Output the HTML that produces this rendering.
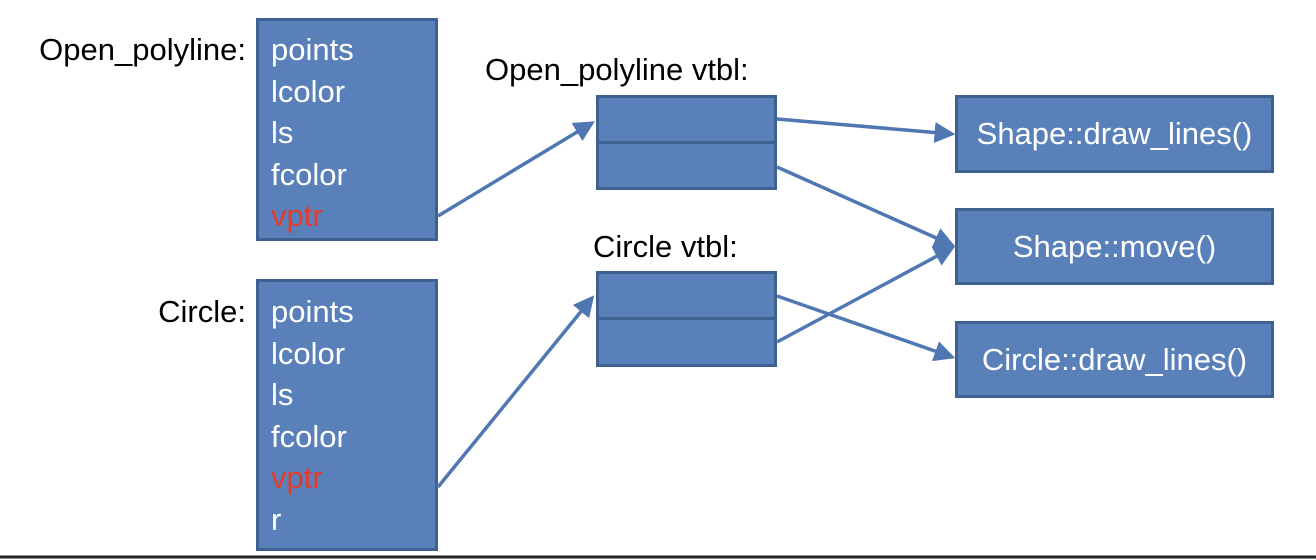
<!DOCTYPE html>
<html><head><style>
body{margin:0;width:1316px;height:560px;background:#fff;position:relative;overflow:hidden;font-family:"Liberation Sans",sans-serif}
.b{position:absolute;background:#5a80ba;border:3px solid #3e6191;box-sizing:border-box}
.t{position:absolute;font-size:31px;color:#fff;line-height:41.5px}
.l{position:absolute;font-size:31px;color:#000;line-height:41.5px;white-space:nowrap}
.rt{text-align:right}
.r{color:#e53b2c}
.c{display:flex;align-items:center;justify-content:center;color:#fff;font-size:31px}
</style></head><body>
<div class="l rt" style="right:1070px;top:29px">Open_polyline:</div>
<div class="l rt" style="right:1070px;top:291px">Circle:</div>
<div class="l" style="left:485px;top:49px">Open_polyline vtbl:</div>
<div class="l" style="left:593px;top:226px">Circle vtbl:</div>

<div class="b" style="left:256px;top:18px;width:182px;height:223px"></div>
<div class="t" style="left:271px;top:29px">points<br>lcolor<br>ls<br>fcolor<br><span class="r">vptr</span></div>

<div class="b" style="left:256px;top:279px;width:182px;height:272px"></div>
<div class="t" style="left:271px;top:291px">points<br>lcolor<br>ls<br>fcolor<br><span class="r">vptr</span><br>r</div>

<div class="b" style="left:596px;top:95px;width:181px;height:50px"></div>
<div class="b" style="left:596px;top:141px;width:181px;height:49px"></div>
<div class="b" style="left:596px;top:271px;width:181px;height:50px"></div>
<div class="b" style="left:596px;top:317px;width:181px;height:50px"></div>

<div class="b c" style="left:955px;top:95px;width:319px;height:78px">Shape::draw_lines()</div>
<div class="b c" style="left:955px;top:208px;width:319px;height:77px">Shape::move()</div>
<div class="b c" style="left:955px;top:321px;width:319px;height:77px">Circle::draw_lines()</div>

<svg width="1316" height="560" style="position:absolute;left:0;top:0">
<defs><marker id="a" markerWidth="6" markerHeight="6" refX="5" refY="3" orient="auto" markerUnits="strokeWidth"><path d="M0,0 L6,3 L0,6 z" fill="#4f78b3"/></marker></defs>
<g stroke="#4f78b3" stroke-width="3.5" fill="none" marker-end="url(#a)">
<line x1="438" y1="216" x2="592" y2="123"/>
<line x1="777" y1="119" x2="952" y2="134"/>
<line x1="777" y1="167" x2="952" y2="245"/>
<line x1="438" y1="487" x2="592" y2="298"/>
<line x1="777" y1="296" x2="952" y2="357"/>
<line x1="777" y1="342" x2="952" y2="248"/>
</g>
<line x1="0" y1="557" x2="1316" y2="557" stroke="#222" stroke-width="3"/>
</svg>
</body></html>
